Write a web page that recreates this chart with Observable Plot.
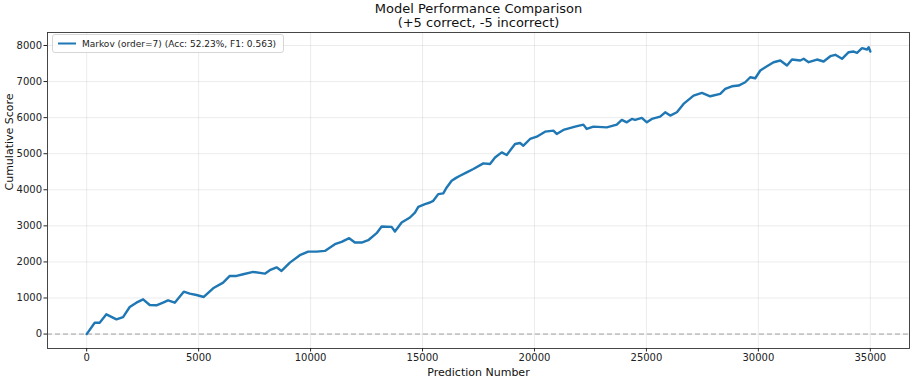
<!DOCTYPE html>
<html><head><meta charset="utf-8">
<script src="https://cdn.jsdelivr.net/npm/d3@7"></script>
<script src="https://cdn.jsdelivr.net/npm/@observablehq/plot@0.6"></script>
<style>body{margin:0;background:#fff;} svg{display:block}</style>
</head><body><div id="chart"></div>
<script>
const predictionNumber = [0,358,580,880,1330,1625,1922,2220,2520,2816,3115,3410,3635,3933,4336,4604,4904,5230,5647,6094,6392,6692,6990,7436,7957,8180,8480,8703,9075,9521,9894,10266,10639,11086,11385,11725,11980,12280,12575,12950,13173,13620,13768,14067,14438,14662,14811,15110,15332,15480,15703,15926,16080,16300,16500,16674,16973,17270,17716,18015,18238,18537,18760,19132,19356,19505,19803,20102,20473,20845,20994,21291,21814,22185,22334,22632,23229,23676,23900,24124,24348,24496,24795,25019,25242,25614,25838,26062,26360,26658,27105,27478,27850,28296,28520,28818,29116,29414,29637,29861,30085,30383,30681,30979,31278,31501,31872,32022,32245,32618,32915,33214,33437,33735,34033,34257,34406,34629,34853,34926,35000];
const cumulativeScore = [0,314,314,547,408,472,750,870,963,805,797,870,936,870,1175,1120,1083,1028,1269,1425,1611,1611,1658,1722,1675,1770,1850,1750,1981,2186,2286,2286,2306,2491,2556,2658,2537,2537,2602,2797,2981,2972,2842,3092,3231,3369,3528,3603,3647,3694,3880,3900,4064,4250,4330,4389,4481,4575,4731,4713,4897,5036,4963,5269,5297,5222,5408,5472,5611,5639,5547,5658,5750,5806,5686,5750,5731,5806,5936,5869,5964,5936,5992,5869,5964,6028,6148,6056,6150,6380,6611,6686,6592,6658,6797,6869,6889,6981,7119,7092,7306,7425,7536,7583,7444,7611,7583,7631,7536,7611,7556,7703,7742,7631,7814,7833,7797,7925,7889,7953,7833];
const xTicks = [0,5000,10000,15000,20000,25000,30000,35000];
const yTicks = [0,1000,2000,3000,4000,5000,6000,7000,8000];
const titleLines = ["Model Performance Comparison","(+5 correct, -5 incorrect)"];
const xLabel = "Prediction Number";
const yLabel = "Cumulative Score";
const seriesLabel = "Markov (order=7) (Acc: 52.23%, F1: 0.563)";
const seriesColor = "#1f77b4";

const data = predictionNumber.map((x, i) => ({x, y: cumulativeScore[i]}));

const chart = Plot.plot({
  width: 914, height: 382,
  marginLeft: 47, marginRight: 5, marginTop: 32, marginBottom: 34,
  style: {fontFamily: "DejaVu Sans", fontSize: "10px", color: "#222", background: "#fff"},
  x: {domain: [-1750, 36750], label: null},
  y: {domain: [-400, 8360], label: null},
  marks: [
    Plot.gridX(xTicks, {stroke: "#b0b0b0", strokeOpacity: 0.3, strokeWidth: 0.8}),
    Plot.gridY(yTicks, {stroke: "#b0b0b0", strokeOpacity: 0.3, strokeWidth: 0.8}),
    Plot.ruleY([0], {stroke: "#808080", strokeOpacity: 0.7, strokeDasharray: "5,3", strokeWidth: 1}),
    Plot.line(data, {x: "x", y: "y", stroke: seriesColor, strokeWidth: 2.4}),
    Plot.frame({stroke: "#333", strokeWidth: 0.9}),
    Plot.axisX(xTicks, {tickSize: 3.5, tickPadding: 2, fontSize: 10, label: null, tickFormat: d => String(d)}),
    Plot.axisY(yTicks, {tickSize: 3.5, tickPadding: 2, fontSize: 10, label: null, tickFormat: d => String(d)}),
    Plot.text([titleLines[0]], {text: d => d, frameAnchor: "top", dy: -24, lineAnchor: "middle", fontSize: 13, fill: "#111"}),
    Plot.text([titleLines[1]], {text: d => d, frameAnchor: "top", dy: -10, lineAnchor: "middle", fontSize: 13, fill: "#111"}),
    Plot.text([xLabel], {text: d => d, frameAnchor: "bottom", dy: 24, lineAnchor: "middle", fontSize: 11, fill: "#111"}),
    Plot.text([yLabel], {text: d => d, frameAnchor: "left", dx: -38, rotate: -90, lineAnchor: "middle", fontSize: 11, fill: "#111"})
  ]
});

// legend box (upper-left, inside the axes)
const svg = d3.select(chart);
const lg = svg.append("g").attr("font-family", "DejaVu Sans").attr("text-anchor", "start");
lg.append("rect").attr("x", 52.5).attr("y", 34.5).attr("width", 231).attr("height", 18).attr("rx", 2.5)
  .attr("fill", "#fff").attr("fill-opacity", 0.85).attr("stroke", "#ccc").attr("stroke-width", 0.8);
lg.append("line").attr("x1", 58).attr("x2", 76).attr("y1", 43.5).attr("y2", 43.5)
  .attr("stroke", seriesColor).attr("stroke-width", 2);
lg.append("text").attr("x", 82).attr("y", 43.5).attr("dy", "0.35em").attr("font-size", 9)
  .attr("text-anchor", "start").attr("fill", "#222").text(seriesLabel);

document.getElementById("chart").appendChild(chart);
</script>
</body></html>
